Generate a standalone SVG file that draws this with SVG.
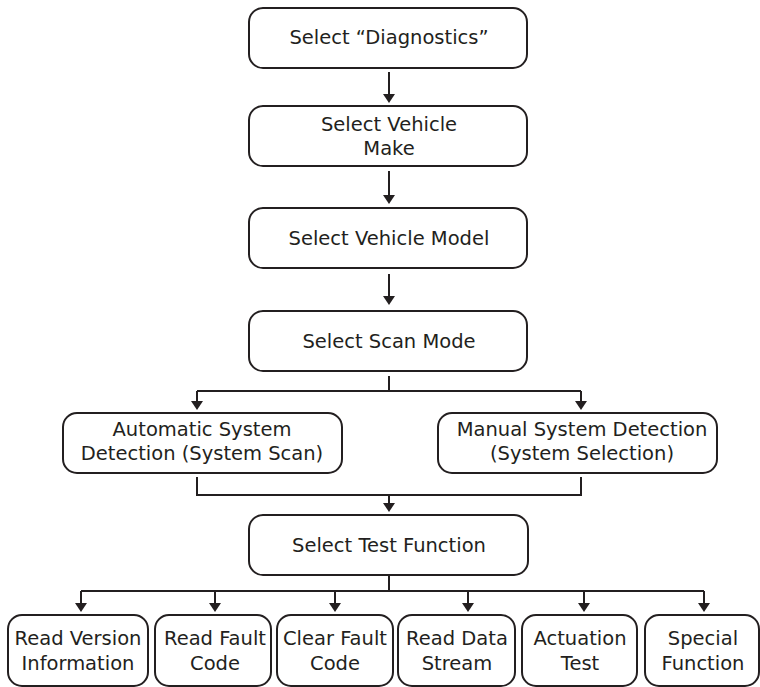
<svg xmlns="http://www.w3.org/2000/svg" width="760" height="687" viewBox="0 0 760 687">
<style>
.box{fill:#ffffff;stroke:#231f20;stroke-width:2}
.t{font-family:"DejaVu Sans","Noto Sans",sans-serif;font-size:19.5px;fill:#231f20;text-anchor:middle}
.c{fill:none;stroke:#231f20;stroke-width:2}
</style>
<defs>
<marker id="ah" viewBox="0 0 9 12" refX="7" refY="6" markerWidth="9" markerHeight="12" markerUnits="userSpaceOnUse" orient="auto">
<path d="M0,0 L9,6 L0,12 z" fill="#231f20"/>
</marker>
</defs>
<rect width="760" height="687" fill="#ffffff"/>
<g id="connectors">
<line class="c" x1="389" y1="72" x2="389" y2="101" marker-end="url(#ah)"/>
<line class="c" x1="389" y1="171" x2="389" y2="202" marker-end="url(#ah)"/>
<line class="c" x1="389" y1="274" x2="389" y2="303" marker-end="url(#ah)"/>
<line class="c" x1="389" y1="376" x2="389" y2="391"/>
<line class="c" x1="197" y1="391" x2="581" y2="391"/>
<line class="c" x1="197" y1="391" x2="197" y2="408" marker-end="url(#ah)"/>
<line class="c" x1="581" y1="391" x2="581" y2="408" marker-end="url(#ah)"/>
<polyline class="c" points="197,477 197,495 581,495 581,477"/>
<line class="c" x1="389" y1="495" x2="389" y2="510" marker-end="url(#ah)"/>
<line class="c" x1="389" y1="575" x2="389" y2="591"/>
<line class="c" x1="81" y1="591" x2="704" y2="591"/>
<line class="c" x1="81" y1="591" x2="81" y2="610" marker-end="url(#ah)"/>
<line class="c" x1="215" y1="591" x2="215" y2="610" marker-end="url(#ah)"/>
<line class="c" x1="335" y1="591" x2="335" y2="610" marker-end="url(#ah)"/>
<line class="c" x1="468" y1="591" x2="468" y2="610" marker-end="url(#ah)"/>
<line class="c" x1="584" y1="591" x2="584" y2="610" marker-end="url(#ah)"/>
<line class="c" x1="704" y1="591" x2="704" y2="610" marker-end="url(#ah)"/>
</g>
<g id="diagnostics"><rect class="box" x="249" y="8" width="278" height="60" rx="14"/><text class="t" x="389" y="44">Select “Diagnostics”</text></g>
<g id="vehicle-make"><rect class="box" x="249" y="106" width="278" height="60" rx="14"/><text class="t" x="389" y="131">Select Vehicle</text><text class="t" x="389" y="155">Make</text></g>
<g id="vehicle-model"><rect class="box" x="249" y="208" width="278" height="60" rx="14"/><text class="t" x="389" y="245">Select Vehicle Model</text></g>
<g id="scan-mode"><rect class="box" x="249" y="311" width="278" height="60" rx="14"/><text class="t" x="389" y="348">Select Scan Mode</text></g>
<g id="auto-detect"><rect class="box" x="63" y="413" width="279" height="60" rx="14"/><text class="t" x="202" y="436">Automatic System</text><text class="t" x="202" y="460">Detection (System Scan)</text></g>
<g id="manual-detect"><rect class="box" x="438" y="413" width="279" height="60" rx="14"/><text class="t" x="582" y="436">Manual System Detection</text><text class="t" x="582" y="460">(System Selection)</text></g>
<g id="test-function"><rect class="box" x="249" y="515" width="279" height="60" rx="14"/><text class="t" x="389" y="552">Select Test Function</text></g>
<g id="read-version"><rect class="box" x="8" y="615" width="140" height="71" rx="14"/><text class="t" x="78" y="645">Read Version</text><text class="t" x="78" y="670">Information</text></g>
<g id="read-fault"><rect class="box" x="155" y="615" width="116" height="71" rx="14"/><text class="t" x="215" y="645">Read Fault</text><text class="t" x="215" y="670">Code</text></g>
<g id="clear-fault"><rect class="box" x="277" y="615" width="116" height="71" rx="14"/><text class="t" x="335" y="645">Clear Fault</text><text class="t" x="335" y="670">Code</text></g>
<g id="data-stream"><rect class="box" x="398" y="615" width="117" height="71" rx="14"/><text class="t" x="457" y="645">Read Data</text><text class="t" x="457" y="670">Stream</text></g>
<g id="actuation"><rect class="box" x="522" y="615" width="115" height="71" rx="14"/><text class="t" x="580" y="645">Actuation</text><text class="t" x="580" y="670">Test</text></g>
<g id="special"><rect class="box" x="645" y="615" width="114" height="71" rx="14"/><text class="t" x="703" y="645">Special</text><text class="t" x="703" y="670">Function</text></g>
</svg>
